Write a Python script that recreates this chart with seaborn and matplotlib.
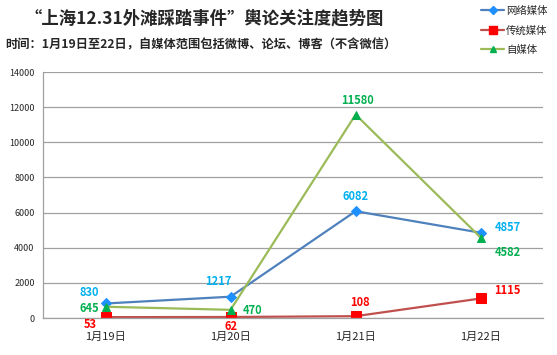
import seaborn as sns
import matplotlib.pyplot as plt
from matplotlib.lines import Line2D

days = ['1月19日', '1月20日', '1月21日', '1月22日']
web = [830, 1217, 6082, 4857]
trad = [53, 62, 108, 1115]
self_media = [645, 470, 11580, 4582]

# label offsets in pixels for each data label
web_off = [(-16, 11), (-12, 15), (0, 15), (27, 5)]
trad_off = [(-15, -7), (0, -10), (4, 14), (27, 8)]
self_off = [(-16, -2), (22, -1), (2, 14), (27, -15)]

sns.set_style("white")
plt.rcParams['font.family'] = ['Noto Sans CJK SC', 'DejaVu Sans']

fig = plt.figure(figsize=(5.57, 3.55), dpi=100)
ax = fig.add_axes([0.0772, 0.104, 0.898, 0.693])

x = list(range(len(days)))

series = [
    ('网络媒体', web, '#4F81BD', '#1E90FF', 'D', 5, web_off, '#00B0F0'),
    ('传统媒体', trad, '#C0504D', '#FF0000', 's', 7, trad_off, '#FF0000'),
    ('自媒体', self_media, '#9BBB59', '#00B050', '^', 6, self_off, '#00B050'),
]

handles = []
for name, vals, lc, mc, mk, ms, offs, tc in series:
    sns.lineplot(x=x, y=vals, ax=ax, color=lc, linewidth=1.6, marker=mk,
                 markersize=ms, markerfacecolor=mc, markeredgecolor=mc)
    for xi, v, (dx, dy) in zip(x, vals, offs):
        ax.annotate(str(v), (xi, v), xytext=(dx, dy), textcoords='offset pixels',
                    ha='center', va='center', color=tc, fontsize=8, fontweight='bold')
    handles.append(Line2D([], [], color=lc, linewidth=1.6, marker=mk,
                          markersize=ms - 1, markerfacecolor=mc, markeredgecolor=mc))

ax.set_xlim(-0.5, 3.5)
ax.set_ylim(0, 14000)
ax.set_yticks(range(0, 14001, 2000))
ax.set_xticks(x)
ax.set_xticklabels(days, fontsize=8)
ax.tick_params(axis='y', labelsize=6.5, length=0, pad=6)
ax.tick_params(axis='x', length=0, pad=10)
ax.grid(axis='y', color='#A0A0A0', linewidth=0.9)
for s in ['top', 'right']:
    ax.spines[s].set_visible(False)
for s in ['left', 'bottom']:
    ax.spines[s].set_color('#A0A0A0')
    ax.spines[s].set_linewidth(0.9)

fig.text(0.367, 0.948, '“上海12.31外滩踩踏事件”輿论关注度趋势图', ha='center', va='center',
         fontsize=12.5, fontweight='bold')
fig.text(0.009, 0.873, '时间：1月19日至22日，自媒体范围包括微博、论坛、博客（不含微信）',
         ha='left', va='center', fontsize=8.8, fontweight='bold')

fig.legend(handles, [s[0] for s in series], loc='upper right',
           bbox_to_anchor=(1.0, 1.01), frameon=False, fontsize=7.5,
           handlelength=2.2, labelspacing=0.9, handletextpad=0.2)

fig.savefig('out.png', dpi=100)
